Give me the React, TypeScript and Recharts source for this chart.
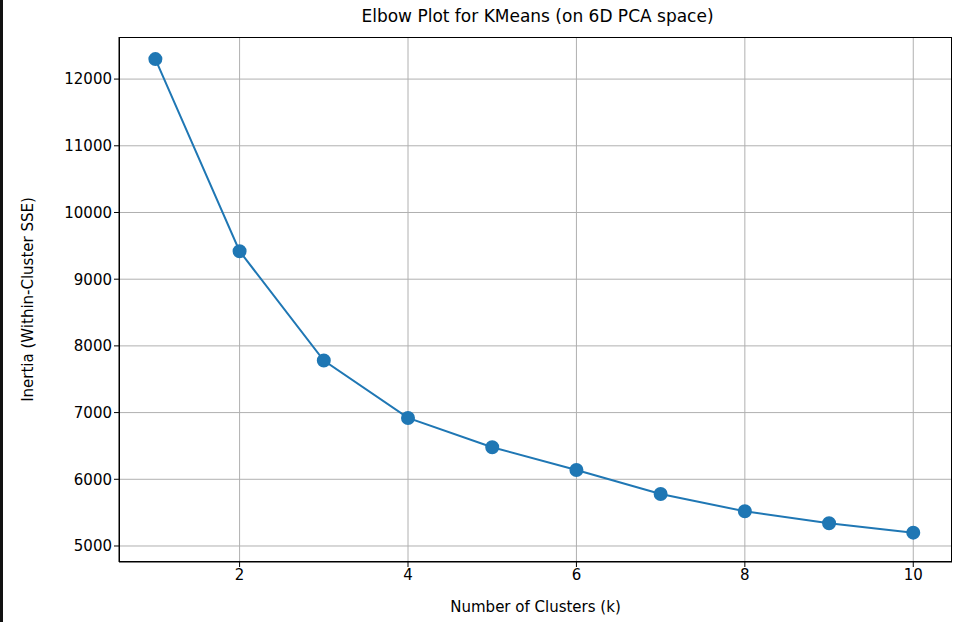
import { CartesianGrid, Line, LineChart, XAxis, YAxis } from 'recharts'

const clusters = [1, 2, 3, 4, 5, 6, 7, 8, 9, 10]
const inertia = [12300, 9420, 7780, 6920, 6480, 6140, 5780, 5520, 5340, 5200]
const xTicks = [2, 4, 6, 8, 10]
const yTicks = [5000, 6000, 7000, 8000, 9000, 10000, 11000, 12000]

const data = clusters.map((k, i) => ({ k, inertia: inertia[i] }))

const font = 'DejaVu Sans, sans-serif'
const tick = { fill: '#000', fontSize: 15, fontFamily: font, style: { fontSize: 15 } }

function App() {
  return (
    <div style={{ position: 'absolute', left: 0, top: 0, width: 961, height: 622, background: '#fff', borderLeft: '3px solid #111', boxSizing: 'border-box' }}>
      <div style={{ position: 'absolute', left: 0, width: 1069, top: 6, textAlign: 'center', fontFamily: font, fontSize: 17 }}>
        Elbow Plot for KMeans (on 6D PCA space)
      </div>
      <LineChart width={958} height={622} data={data} margin={{ top: 37, right: 6, left: 0, bottom: 0 }} style={{ position: 'absolute', left: -3, top: 0 }}>
        <CartesianGrid stroke="#b0b0b0" strokeWidth={1} horizontalValues={yTicks} verticalValues={xTicks} />
        <XAxis dataKey="k" type="number" domain={[0.568, 10.46]} ticks={xTicks} allowDataOverflow
          height={60} stroke="#000" tick={tick} tickSize={5}
          label={{ value: 'Number of Clusters (k)', position: 'insideBottom', offset: 10, fill: '#000', fontSize: 15, fontFamily: font }} />
        <YAxis type="number" domain={[4760, 12631]} ticks={yTicks} allowDataOverflow width={119}
          stroke="#000" tick={tick} tickSize={5}
          label={{ value: 'Inertia (Within-Cluster SSE)', angle: -90, position: 'insideLeft', offset: 28, fill: '#000', fontSize: 15, fontFamily: font, textAnchor: 'middle' }} />
        <Line dataKey="inertia" stroke="#1f77b4" strokeWidth={2} isAnimationActive={false}
          dot={{ r: 6, fill: '#1f77b4', stroke: '#1f77b4' }} />
      </LineChart>
      <div style={{ position: 'absolute', left: 116, top: 37, width: 833, height: 525, border: '1px solid #000', boxSizing: 'border-box', pointerEvents: 'none' }} />
    </div>
  )
}

export default App
